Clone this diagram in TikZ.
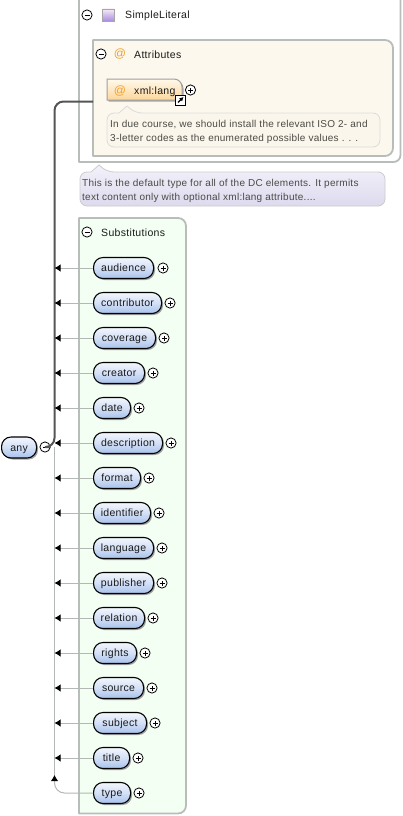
\documentclass[tikz,border=0pt]{standalone}
\usepackage{fontspec}
\setmainfont{Liberation Sans}
\newfontfamily\lblfont[LetterSpace=3]{Liberation Sans}
\newfontfamily\docfont[LetterSpace=2.6]{Liberation Sans}
\usetikzlibrary{shadows,arrows.meta}
\definecolor{panelgray}{HTML}{B9BDB9}
\definecolor{linegray}{HTML}{B4B8B4}
\definecolor{darkline}{HTML}{555555}
\definecolor{txt}{HTML}{1A1A1A}
\definecolor{doctxt}{HTML}{4A4A44}
\definecolor{atorange}{HTML}{F0A030}
\definecolor{pilltop}{HTML}{F2F6FD}
\definecolor{pillmid}{HTML}{D3E0F6}
\definecolor{pillbot}{HTML}{A8C2EC}
\definecolor{attrfill}{HTML}{FDF8EE}
\definecolor{langtop}{HTML}{FFF9EC}
\definecolor{langbot}{HTML}{FDD69A}
\definecolor{docone}{HTML}{FBF6EC}
\definecolor{doctop}{HTML}{F3F1FA}
\definecolor{docbot}{HTML}{DDDAEE}
\definecolor{subsfill}{HTML}{F3FFF3}
\tikzset{
  x=1pt,y=-1pt,
  every node/.style={font=\lblfont\fontsize{10.5}{12}\selectfont,text=txt,inner sep=0pt},
  panel/.style={draw=panelgray,line width=1.8pt,line join=round},
  elem/.style={draw=black,line width=1.1pt,rounded corners=9.5pt,minimum height=21pt,text height=8.5pt,text depth=1pt,anchor=west,top color=pilltop,bottom color=pillbot,middle color=pillmid,
    drop shadow={shadow xshift=1.5pt,shadow yshift=-1.5pt,fill=gray!75,opacity=1}},
  pm/.style={circle,draw=black,line width=.8pt,minimum size=10.2pt,fill=white},
  plusbox/.style={pm,path picture={\draw[line width=.8pt] ([xshift=-2.5pt]path picture bounding box.center)--([xshift=2.5pt]path picture bounding box.center);\draw[line width=.8pt] ([yshift=-2.5pt]path picture bounding box.center)--([yshift=2.5pt]path picture bounding box.center);}},
  minusbox/.style={pm,path picture={\draw[line width=.8pt] ([xshift=-2.5pt]path picture bounding box.center)--([xshift=2.5pt]path picture bounding box.center);}},
  conn/.style={draw=linegray,line width=1pt},
  connarrow/.style={conn,-{Latex[length=6pt,width=7.5pt,black]}},
  spineline/.style={draw=darkline,line width=2pt,line join=round},
  labeltext/.style={anchor=west,yshift=-.6pt},
  doctext/.style={anchor=west,yshift=-1pt,text=doctxt,font=\docfont\fontsize{10}{12}\selectfont},
  atsign/.style={text=atorange,font=\fontsize{12}{12}\selectfont},
}
\begin{document}
\begin{tikzpicture}
\useasboundingbox (0,0) rectangle (403,816);
\fill[white] (0,0) rectangle (403,816);
% outer type panel
\path[panel,fill=white] (79,-4) -- (79,162) [rounded corners=7pt] -- (400.5,162) -- (400.5,-4);
\node[minusbox] (m-type) at (87,15) {};
\node[draw=gray!70,line width=.6pt,minimum size=12pt,top color=violet!8,bottom color=violet!50!blue!45] (typeicon) at (108.5,15) {};
\node[labeltext] (typelabel) at (125,15) {SimpleLiteral};
\shade[left color=white,middle color=gray!45,right color=white] (84,28) rectangle (325,30);
% attributes panel
\path[panel,fill=attrfill] (93,40) -- (93,156) [rounded corners=8pt] -- (393,156) -- (393,40) [sharp corners] -- (93,40) -- cycle;
\node[minusbox] (m-attr) at (101,54) {};
\node[atsign] (attricon) at (120,54) {@};
\node[labeltext] (attrlabel) at (134,54) {Attributes};
\shade[left color=attrfill,middle color=gray!50,right color=attrfill] (96,67) rectangle (322,69);
% doc of xml:lang
\path[draw=gray!28,line width=.8pt,fill=docone] (107,130) [rounded corners=7pt] -- (107,147) -- (380,147) -- (380,113) -- (135,113) [sharp corners] -- (127,106) -- (119,113) [rounded corners=7pt] -- (107,113) -- cycle;
\node[doctext] (langdoc1) at (110,124) {In due course, we should install the relevant ISO 2- and};
\node[doctext] (langdoc2) at (110,138) {3-letter codes as the enumerated possible values . . .};
% doc of type
\path[draw=gray!40,line width=.8pt,top color=doctop,bottom color=docbot] (80,190) [rounded corners=7pt] -- (80,206) -- (385,206) -- (385,172) -- (107,172) [sharp corners] -- (99,165) -- (91,172) [rounded corners=7pt] -- (80,172) -- cycle;
\node[doctext] (typedoc1) at (82,183) {This is the default type for all of the DC elements. It permits};
\node[doctext] (typedoc2) at (82,197) {text content only with optional xml:lang attribute....};
% substitutions panel
\path[panel,fill=subsfill] (79,218) -- (79,813.5) [rounded corners=8pt] -- (186,813.5) -- (186,218) [sharp corners] -- (79,218) -- cycle;
\node[minusbox] (m-subs) at (87,232) {};
\node[labeltext] (subslabel) at (101,232) {Substitutions};
\shade[left color=subsfill,middle color=gray!45,right color=subsfill] (84,245) rectangle (165,247);
% root
\node[elem,minimum width=35pt] (any) at (1,447.5) {any};
\node[minusbox] (m-any) at (45,447) {};
% thick connector
\coordinate (attrpanel) at (93,101.5);
\coordinate (spine) at (54.5,447);
\draw[spineline,rounded corners=9pt] (m-any.east) -- (spine) -- (54.5,101.5) -- (attrpanel);
% substitution rows
\coordinate (typejoin) at (54.5,775);
\draw[conn] (54.5,447) -- (typejoin);
\foreach \nm/\yy/\pw/\px in {audience/268/60/163,contributor/303/68/170,coverage/338/62/164,creator/373/51/153,date/408/37/139,description/443/69/171,format/478/47/149,identifier/513/57/159,language/548/60/162,publisher/583/60/162,relation/618/51/153,rights/653/43/145,source/688/50/152,subject/723/53/155,title/758/36/138}{
  \node[elem,minimum width=\pw pt] (\nm) at (93,\yy) {\nm};
  \node[plusbox] (p-\nm) at (\px,\yy) {};
  \coordinate (tip-\nm) at (54.5,\yy);
  \draw[connarrow] (\nm.west) -- (tip-\nm);
}
\node[elem,minimum width=37pt] (type) at (93,793) {type};
\node[plusbox] (p-type) at (139,793) {};
\draw[connarrow,rounded corners=10pt] (type.west) -- (54.5,793) -- (typejoin);
% xml:lang
\path[draw=gray!75,line width=1pt,top color=langtop,bottom color=langbot,
  drop shadow={shadow xshift=1.5pt,shadow yshift=-1.5pt,fill=gray!70,opacity=1}]
  (107,100) -- (107,79) [rounded corners=8pt] -- (182,79) [sharp corners] -- (182,100) -- cycle;
\node[atsign] (langicon) at (120,91) {@};
\node[labeltext] (langlabel) at (134,91) {xml:lang};
\node[plusbox] (p-lang) at (190.5,90) {};
\node[draw=black,line width=1pt,fill=white,minimum size=10pt] (shortcut) at (180.5,100) {};
\draw[-{Latex[length=4pt,width=4.5pt]},line width=1.1pt,black] ([shift={(-2.5pt,-2.5pt)}]shortcut.center) -- ([shift={(3pt,3pt)}]shortcut.center);
\end{tikzpicture}
\end{document}
